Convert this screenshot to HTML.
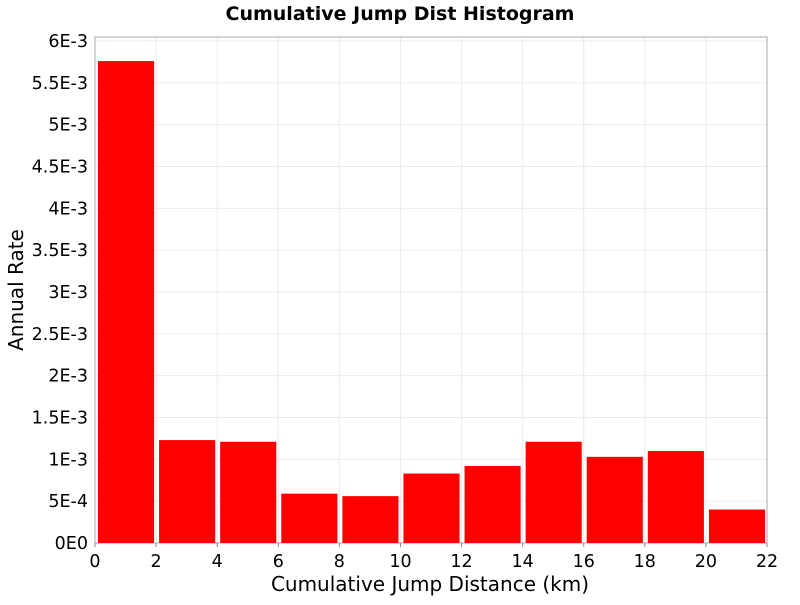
<!DOCTYPE html>
<html><head><meta charset="utf-8"><style>
body{margin:0;background:#fff;font-family:"Liberation Sans","DejaVu Sans",sans-serif}
</style></head><body>
<svg id="c" width="800" height="600" xmlns="http://www.w3.org/2000/svg">
<text x="400" y="20" text-anchor="middle" font-family="DejaVu Sans, sans-serif" font-weight="bold" font-size="19">Cumulative Jump Dist Histogram</text>
<g id="grid"></g>
<rect x="95" y="37" width="672" height="506" fill="none" stroke="#aaa"/>
<g id="bars"></g><g id="axes"></g>
<text x="430" y="591" text-anchor="middle" font-family="DejaVu Sans, sans-serif" font-size="20">Cumulative Jump Distance (km)</text>
<text transform="translate(23,290) rotate(-90)" text-anchor="middle" font-family="DejaVu Sans, sans-serif" font-size="20">Annual Rate</text>
</svg>
<script>
const binStarts=[0,2,4,6,8,10,12,14,16,18,20];
const rates=[5.76e-3,1.23e-3,1.21e-3,0.59e-3,0.56e-3,0.83e-3,0.92e-3,1.21e-3,1.03e-3,1.10e-3,0.40e-3];
const xTicks=[0,2,4,6,8,10,12,14,16,18,20,22];
const yTicks=[0,5e-4,1e-3,1.5e-3,2e-3,2.5e-3,3e-3,3.5e-3,4e-3,4.5e-3,5e-3,5.5e-3,6e-3];
const yLabels=["0E0","5E-4","1E-3","1.5E-3","2E-3","2.5E-3","3E-3","3.5E-3","4E-3","4.5E-3","5E-3","5.5E-3","6E-3"];
const NS="http://www.w3.org/2000/svg";
const X=v=>95+v*(672/22);
const Y=v=>543-v*(502/6e-3);
function mk(tag,parent,attrs){const e=document.createElementNS(NS,tag);for(const k in attrs)e.setAttribute(k,attrs[k]);document.getElementById(parent).appendChild(e);return e;}
xTicks.forEach((t,i)=>{
 const g=mk('line','grid',{x1:X(t),x2:X(t),y1:37,y2:543,stroke:'#ebebeb'});
 
 
 const tk=mk('line','axes',{x1:X(t),x2:X(t),y1:543,y2:547,stroke:'#888'});
 
 
 const l=mk('text','axes',{x:X(t),y:567,'text-anchor':'middle','font-size':'17.5','font-family':'DejaVu Sans, sans-serif'});
 l.textContent=t;
 
 
});
yTicks.forEach((t,i)=>{
 const g=mk('line','grid',{x1:95,x2:767,y1:Y(t),y2:Y(t),stroke:'#ebebeb'});
 
 
 const l=mk('text','axes',{x:88,y:Y(t)+6,'text-anchor':'end','font-size':'17.5','font-family':'DejaVu Sans, sans-serif'});
 l.textContent=yLabels[i];
 
 
});
binStarts.forEach((b,i)=>{
 const x0=X(b)+3,x1=X(b+2)-2;
 const r=mk('rect','bars',{x:x0,y:Y(rates[i]),width:x1-x0,height:Y(0)-Y(rates[i]),fill:'#ff0000'});
 
 
});
</script>
</body></html>
